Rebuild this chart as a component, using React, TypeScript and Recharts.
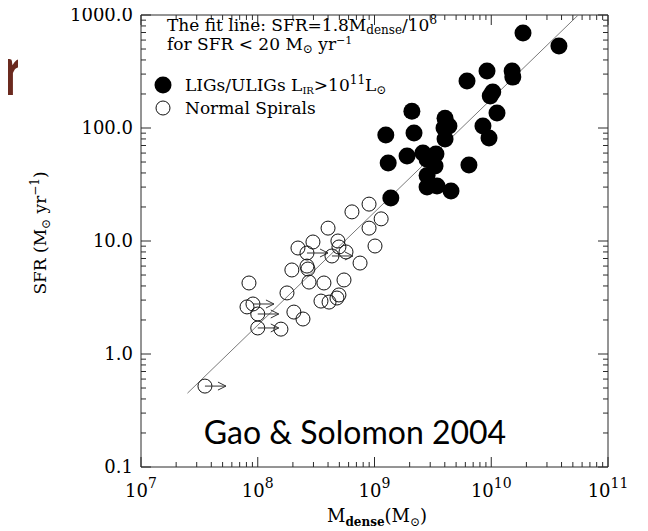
import React from 'react';
import { ScatterChart, Scatter, XAxis, YAxis } from 'recharts';

// ---- data ----
const filledMdense = [1.87e10, 3.8e10, 9.2e9, 1.51e10, 1.53e10, 6.2e9, 1.03e10, 9.8e9, 1.12e10, 2.09e9, 1.25e9, 2.18e9, 4.02e9, 3.94e9, 4.34e9, 4.02e9, 8.49e9, 9.57e9, 1.9e9, 1.31e9, 2.6e9, 3.36e9, 2.82e9, 3.3e9, 6.44e9, 2.82e9, 2.82e9, 3.43e9, 4.52e9, 1.38e9];
const filledSFR = [693, 532, 319, 319, 282, 261, 208, 192, 136, 141, 86.7, 90.3, 122, 100, 104, 80, 104, 81.6, 56.5, 49, 60, 59, 53, 46, 47, 38, 30, 30.7, 27.7, 24];

const openMdense = [8.98e8, 6.41e8, 1.14e9, 8.98e8, 4.0e8, 1.01e9, 2.97e8, 2.21e8, 2.64e8, 4.86e8, 4.96e8, 5.7e8, 4.32e8, 7.52e8, 2.64e8, 1.96e8, 2.69e8, 2.75e8, 3.69e8, 5.48e8, 8.41e7, 1.78e8, 4.96e8, 3.48e8, 4.08e8, 4.77e8, 9.1e7, 8.09e7, 1.0e8, 2.04e8, 2.44e8, 1.0e8, 1.58e8, 3.53e7];
const openSFR = [21.2, 18.1, 15.7, 13.0, 13.0, 9.03, 9.8, 8.67, 7.83, 10.0, 8.85, 8.0, 7.37, 6.38, 6.0, 5.54, 5.65, 4.33, 4.25, 4.52, 4.25, 3.47, 3.33, 2.94, 2.88, 3.13, 2.77, 2.61, 2.26, 2.35, 2.04, 1.7, 1.66, 0.52];
// 1 = lower limit on M_dense (arrow pointing right)
const openLimit = [0, 0, 0, 0, 0, 0, 0, 0, 1, 0, 0, 0, 1, 0, 0, 0, 0, 0, 0, 0, 0, 0, 0, 0, 0, 0, 1, 0, 1, 0, 0, 1, 0, 1];

const fitMdense = [2.5e7, 5.56e10];
const fitSFR = [0.45, 1000];

const xMajorTicks = [1e7, 1e8, 1e9, 1e10, 1e11];
const xExponents = ['7', '8', '9', '10', '11'];
const yMajorTicks = [0.1, 1, 10, 100, 1000];
const yTickLabels = ['0.1', '1.0', '10.0', '100.0', '1000.0'];

// ---- derived ----
const filledData = filledMdense.map((m, i) => ({ x: m, y: filledSFR[i] }));
const openData = openMdense.map((m, i) => ({ x: m, y: openSFR[i], lim: openLimit[i] }));
const fitData = fitMdense.map((m, i) => ({ x: m, y: fitSFR[i] }));

const withMinors = (majors: number[]) => {
  const out: number[] = [];
  majors.forEach((m, i) => {
    out.push(m);
    if (i < majors.length - 1) for (let k = 2; k <= 9; k++) out.push(m * k);
  });
  return out;
};
const xTicks = withMinors(xMajorTicks);
const yTicks = withMinors(yMajorTicks);

const isMajor = (v: number) => {
  const l = Math.log10(v);
  return Math.abs(l - Math.round(l)) < 1e-6;
};

const AX = '#2a2a2a';
const SERIF = '"DejaVu Serif", serif';

const XTickBottom = (props: any) => {
  const { x, y, payload } = props;
  const v = payload.value;
  const major = isMajor(v);
  const idx = xMajorTicks.findIndex((t) => Math.abs(Math.log10(t) - Math.log10(v)) < 1e-6);
  return (
    <g>
      <line x1={x} x2={x} y1={y} y2={y - (major ? 10 : 5)} stroke={AX} strokeWidth={1} />
      {major && (
        <text x={x} y={y + 30} textAnchor="middle" fontFamily={SERIF} fontSize={18} fill="#000">
          10<tspan dy={-9} fontSize={14}>{xExponents[idx]}</tspan>
        </text>
      )}
    </g>
  );
};

const XTickTop = (props: any) => {
  const { x, y, payload } = props;
  const major = isMajor(payload.value);
  return <line x1={x} x2={x} y1={y} y2={y + (major ? 10 : 5)} stroke={AX} strokeWidth={1} />;
};

const YTickLeft = (props: any) => {
  const { x, y, payload } = props;
  const v = payload.value;
  const major = isMajor(v);
  const idx = yMajorTicks.findIndex((t) => Math.abs(Math.log10(t) - Math.log10(v)) < 1e-6);
  return (
    <g>
      <line x1={x} x2={x + (major ? 10 : 5)} y1={y} y2={y} stroke={AX} strokeWidth={1} />
      {major && (
        <text x={x - 8} y={y} dy="0.35em" textAnchor="end" fontFamily={SERIF} fontSize={18} fill="#000">
          {yTickLabels[idx]}
        </text>
      )}
    </g>
  );
};

const YTickRight = (props: any) => {
  const { x, y, payload } = props;
  const major = isMajor(payload.value);
  return <line x1={x} x2={x - (major ? 10 : 5)} y1={y} y2={y} stroke={AX} strokeWidth={1} />;
};

const FilledDot = (props: any) => {
  const { cx, cy } = props;
  return <circle cx={cx} cy={cy} r={8.5} fill="#000" />;
};

const OpenDot = (props: any) => {
  const { cx, cy, payload } = props;
  return (
    <g>
      <circle cx={cx} cy={cy} r={7} fill="none" stroke="#111" strokeWidth={1} />
      {payload && payload.lim ? (
        <g stroke="#333" strokeWidth={1} fill="none">
          <line x1={cx} x2={cx + 21} y1={cy} y2={cy} />
          <polyline points={`${cx + 13},${cy - 4} ${cx + 21},${cy} ${cx + 13},${cy + 4}`} />
        </g>
      ) : null}
    </g>
  );
};

const Empty = () => <g />;

export default function App() {
  return (
    <div style={{ position: 'relative', width: 640, height: 523 }}>
      <ScatterChart width={640} height={523} margin={{ top: 6, right: 39, bottom: 63, left: 132 }}>
        <XAxis
          xAxisId="b"
          dataKey="x"
          type="number"
          scale="log"
          domain={[1e7, 1e11]}
          allowDataOverflow
          ticks={xTicks}
          interval={0}
          tick={<XTickBottom />}
          tickSize={0}
          tickMargin={0}
          tickLine={false}
          height={1}
          axisLine={{ stroke: AX, strokeWidth: 1 }}
        />
        <XAxis
          xAxisId="t"
          orientation="top"
          dataKey="x"
          type="number"
          scale="log"
          domain={[1e7, 1e11]}
          allowDataOverflow
          ticks={xTicks}
          interval={0}
          tick={<XTickTop />}
          tickSize={0}
          tickMargin={0}
          tickLine={false}
          height={1}
          axisLine={{ stroke: AX, strokeWidth: 1 }}
        />
        <YAxis
          yAxisId="l"
          dataKey="y"
          type="number"
          scale="log"
          domain={[0.1, 1000]}
          allowDataOverflow
          ticks={yTicks}
          interval={0}
          tick={<YTickLeft />}
          tickSize={0}
          tickMargin={0}
          tickLine={false}
          width={1}
          axisLine={{ stroke: AX, strokeWidth: 1 }}
        />
        <YAxis
          yAxisId="r"
          orientation="right"
          dataKey="y"
          type="number"
          scale="log"
          domain={[0.1, 1000]}
          allowDataOverflow
          ticks={yTicks}
          interval={0}
          tick={<YTickRight />}
          tickSize={0}
          tickMargin={0}
          tickLine={false}
          width={1}
          axisLine={{ stroke: AX, strokeWidth: 1 }}
        />
        <Scatter xAxisId="t" yAxisId="r" data={fitData} shape={<Empty />} isAnimationActive={false} />
        <Scatter
          xAxisId="b"
          yAxisId="l"
          data={fitData}
          line={{ stroke: '#7a7a7a', strokeWidth: 1 }}
          shape={<Empty />}
          isAnimationActive={false}
        />
        <Scatter xAxisId="b" yAxisId="l" data={openData} shape={<OpenDot />} isAnimationActive={false} />
        <Scatter xAxisId="b" yAxisId="l" data={filledData} shape={<FilledDot />} isAnimationActive={false} />
      </ScatterChart>
      <svg
        width={640}
        height={523}
        style={{ position: 'absolute', left: 0, top: 0, pointerEvents: 'none' }}
      >
        <defs>
          <clipPath id="rclip">
            <rect x={-8} y={0} width={18} height={120} />
          </clipPath>
        </defs>
        <text x={-8} y={87} clipPath="url(#rclip)" fontFamily="Lato, sans-serif" fontWeight="bold" fontSize={70} fill="#6b2a1f">
          r
        </text>
        <g fontFamily={SERIF} fontSize={17} fill="#000">
          <text x={159} y={23}>
            The fit line: SFR=1.8M<tspan dy={3} fontSize={12}>dense</tspan>
            <tspan dy={-3}>/10</tspan>
            <tspan dy={-7} fontSize={12}>8</tspan>
          </text>
          <text x={159} y={42}>
            for SFR {'<'} 20 M<tspan dy={3} fontSize={12}>⊙</tspan>
            <tspan dy={-3}> yr</tspan>
            <tspan dy={-6} fontSize={11}>−1</tspan>
          </text>
          <circle cx={155} cy={77} r={8.5} fill="#000" />
          <text x={177} y={83}>
            LIGs/ULIGs L<tspan dy={3} fontSize={10}>IR</tspan>
            <tspan dy={-3}>{'>'}10</tspan>
            <tspan dy={-7} fontSize={12}>11</tspan>
            <tspan dy={7}>L</tspan>
            <tspan dy={3} fontSize={12}>⊙</tspan>
          </text>
          <circle cx={155} cy={100} r={7} fill="none" stroke="#111" strokeWidth={1} />
          <text x={177} y={106}>Normal Spirals</text>
        </g>
        <text x={347} y={436} textAnchor="middle" fontFamily="Lato, sans-serif" fontSize={32} fill="#000">
          Gao &amp; Solomon 2004
        </text>
        <text x={369} y={514} textAnchor="middle" fontFamily={SERIF} fontSize={18} fill="#000">
          M<tspan dy={4} fontSize={12} fontWeight="bold">dense</tspan>
          <tspan dy={-4}>(M</tspan>
          <tspan dy={4} fontSize={12}>⊙</tspan>
          <tspan dy={-4}>)</tspan>
        </text>
        <text
          x={0}
          y={0}
          transform="translate(38,225) rotate(-90)"
          textAnchor="middle"
          fontFamily={SERIF}
          fontSize={17}
          fill="#000"
        >
          SFR (M<tspan dy={4} fontSize={12}>⊙</tspan>
          <tspan dy={-4}> yr</tspan>
          <tspan dy={-7} fontSize={12}>−1</tspan>
          <tspan dy={7}>)</tspan>
        </text>
      </svg>
    </div>
  );
}
